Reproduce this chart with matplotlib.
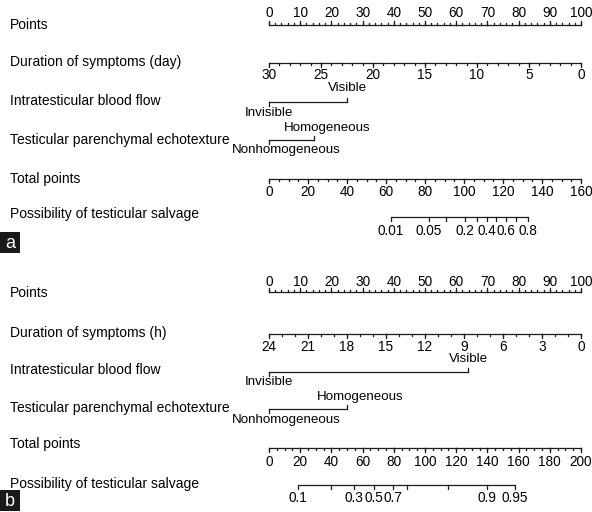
import matplotlib
matplotlib.use("Agg")
import matplotlib.pyplot as plt
from matplotlib.patches import Rectangle

plt.rcParams['font.family'] = ['Liberation Sans', 'DejaVu Sans']

# ---------------- data ----------------
row_names_a = ["Points", "Duration of symptoms (day)", "Intratesticular blood flow",
               "Testicular parenchymal echotexture", "Total points",
               "Possibility of testicular salvage"]
row_names_b = ["Points", "Duration of symptoms (h)", "Intratesticular blood flow",
               "Testicular parenchymal echotexture", "Total points",
               "Possibility of testicular salvage"]

points_major = list(range(0, 101, 10))
points_minor = list(range(0, 101, 2))

# panel a
days_max = 30
days_major = [30, 25, 20, 15, 10, 5, 0]
days_minor = list(range(0, 31, 1))
flow_levels = ["Invisible", "Visible"]
flow_points_a = [0, 25]
echo_levels = ["Nonhomogeneous", "Homogeneous"]
echo_points_a = [0, 14.5]
total_max_a = 160
total_major_a = list(range(0, 161, 20))
total_minor_a = list(range(0, 161, 5))
prob_ticks_tp_a = [62.6, 82.0, 90.7, 100.3, 106.6, 111.8, 116.5, 121.3, 126.5, 132.8]
prob_labels_a = ["0.01", "0.05", "", "0.2", "", "0.4", "", "0.6", "", "0.8"]

# panel b
hours_max = 24
hours_major = [24, 21, 18, 15, 12, 9, 6, 3, 0]
hours_minor = list(range(0, 25, 1))
flow_points_b = [0, 63.8]
echo_points_b = [0, 25]
total_max_b = 200
total_major_b = list(range(0, 201, 20))
total_minor_b = list(range(0, 201, 5))
prob_ticks_tp_b = [18.4, 39.7, 54.5, 67.3, 79.7, 88.7, 114.9, 139.5, 157.7]
prob_labels_b = ["0.1", "", "0.3", "0.5", "0.7", "", "", "0.9", "0.95"]

# ---------------- drawing ----------------
W, H = 592, 512
fig = plt.figure(figsize=(W / 100, H / 100), dpi=100)
x0_px, x1_px = 269, 581
ax = fig.add_axes([x0_px / W, 0, (x1_px - x0_px) / W, 1])
ax.set_xlim(0, 100)
ax.set_ylim(H, 0)
ax.axis('off')

LC = '#1a1a1a'
LW = 0.9
FS_NAME = 10.0
FS_TICK = 9.8
FS_CAT = 9.6
MAJ, MIN = 4.0, 2.0
PX = 100 / (x1_px - x0_px)  # x-units per pixel


def scale_down(y, pos_major, lab_major, pos_minor, label_dy=13):
    """Line with ticks pointing down, labels below."""
    lo = min(pos_major + pos_minor)
    hi = max(pos_major + pos_minor)
    ax.plot([lo, hi], [y, y], color=LC, lw=LW, solid_capstyle='butt')
    for p in pos_minor:
        ax.plot([p, p], [y, y + MIN], color=LC, lw=LW)
    for p, l in zip(pos_major, lab_major):
        ax.plot([p, p], [y, y + MAJ], color=LC, lw=LW)
        if l:
            ax.text(p, y + label_dy, l, ha='center', va='center', fontsize=FS_TICK, color='black')


def scale_up(y, pos_major, lab_major, pos_minor, label_dy=12):
    lo = min(pos_major + pos_minor)
    hi = max(pos_major + pos_minor)
    ax.plot([lo, hi], [y, y], color=LC, lw=LW, solid_capstyle='butt')
    for p in pos_minor:
        ax.plot([p, p], [y, y - MIN], color=LC, lw=LW)
    for p, l in zip(pos_major, lab_major):
        ax.plot([p, p], [y, y - MAJ], color=LC, lw=LW)
        ax.text(p, y - label_dy, l, ha='center', va='center', fontsize=FS_TICK, color='black')


def categorical(y, pts, levels, up_dy=13, down_dy=11, shift_lo=0.0, shift_hi=0.0):
    ax.plot([pts[0], pts[1]], [y, y], color=LC, lw=LW)
    ax.plot([pts[0], pts[0]], [y, y + MAJ], color=LC, lw=LW)
    ax.plot([pts[1], pts[1]], [y, y - MAJ], color=LC, lw=LW)
    ax.text(pts[0] + shift_lo * PX, y + down_dy, levels[0], ha='center', va='center',
            fontsize=FS_CAT)
    ax.text(pts[1] + shift_hi * PX, y - up_dy, levels[1], ha='center', va='center',
            fontsize=FS_CAT)


def names(ys, labels):
    for y, t in zip(ys, labels):
        fig.text(10 / W, 1 - y / H, t, ha='left', va='center', fontsize=FS_NAME)


def panel_tag(y_top, letter):
    fig.patches.append(Rectangle((0, 1 - (y_top + 21) / H), 20 / W, 21 / H,
                                 transform=fig.transFigure, facecolor='#1a1a1a',
                                 edgecolor='none'))
    fig.text(10 / W, 1 - (y_top + 11) / H, letter, ha='center', va='center',
             fontsize=13, color='white')


# ---- panel a ----
ya = dict(points=25, dur=63, flow=102, echo=140, total=179, prob=217)
scale_up(ya['points'], points_major, [str(v) for v in points_major], points_minor)
scale_down(ya['dur'], [(days_max - d) / days_max * 100 for d in days_major],
           [str(d) for d in days_major],
           [(days_max - d) / days_max * 100 for d in days_minor], label_dy=12)
categorical(ya['flow'], flow_points_a, flow_levels, up_dy=14, down_dy=11)
categorical(ya['echo'], echo_points_a, echo_levels, up_dy=12, down_dy=10,
            shift_lo=17, shift_hi=13)
scale_down(ya['total'], [v / total_max_a * 100 for v in total_major_a],
           [str(v) for v in total_major_a],
           [v / total_max_a * 100 for v in total_minor_a], label_dy=13)
scale_down(ya['prob'], [v / total_max_a * 100 for v in prob_ticks_tp_a], prob_labels_a,
           [], label_dy=14)
names([25, 62, 101, 140, 179, 214], row_names_a)
panel_tag(232, 'a')

# ---- panel b ----
yb = dict(points=292, dur=334, flow=372, echo=409, total=448, prob=485)
scale_up(yb['points'], points_major, [str(v) for v in points_major], points_minor, label_dy=10)
scale_down(yb['dur'], [(hours_max - h) / hours_max * 100 for h in hours_major],
           [str(h) for h in hours_major],
           [(hours_max - h) / hours_max * 100 for h in hours_minor], label_dy=13)
categorical(yb['flow'], flow_points_b, flow_levels, up_dy=13, down_dy=10)
categorical(yb['echo'], echo_points_b, echo_levels, up_dy=12, down_dy=11,
            shift_lo=17, shift_hi=13)
scale_down(yb['total'], [v / total_max_b * 100 for v in total_major_b],
           [str(v) for v in total_major_b],
           [v / total_max_b * 100 for v in total_minor_b], label_dy=14)
scale_down(yb['prob'], [v / total_max_b * 100 for v in prob_ticks_tp_b], prob_labels_b,
           [], label_dy=13)
names([293, 333, 370, 408, 444, 484], row_names_b)
panel_tag(490, 'b')

for ln in ax.lines:
    ln.set_clip_on(False)
for t in ax.texts:
    t.set_clip_on(False)

fig.savefig('out.png', dpi=100)
